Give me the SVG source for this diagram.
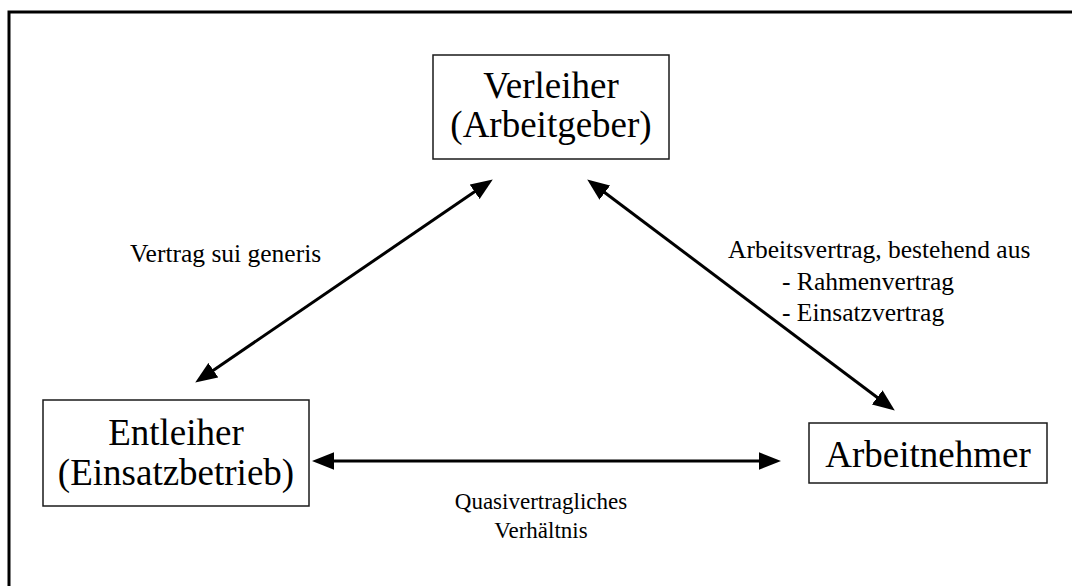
<svg xmlns="http://www.w3.org/2000/svg" width="1072" height="586" viewBox="0 0 1072 586">
  <style>
    .box { fill: #ffffff; stroke: #1a1a1a; stroke-width: 1.5; }
    .big { font-family: "Liberation Serif", "Times New Roman", serif; font-size: 37px; fill: #000; text-anchor: middle; }
    .lbl { font-family: "Liberation Serif", "Times New Roman", serif; font-size: 25.5px; fill: #000; }
    .lbl2 { font-family: "Liberation Serif", "Times New Roman", serif; font-size: 23px; fill: #000; text-anchor: middle; }
    .conn { stroke: #000; stroke-width: 3; fill: none; marker-start: url(#ah); marker-end: url(#ah); }
  </style>
  <defs>
    <marker id="ah" markerUnits="userSpaceOnUse" markerWidth="22" markerHeight="18" viewBox="0 0 20 16" refX="10" refY="8" orient="auto-start-reverse">
      <path d="M0,0 L20,8 L0,16 z" fill="#000"/>
    </marker>
  </defs>
  <rect x="0" y="0" width="1072" height="586" fill="#ffffff"/>
  <path d="M9,586 V12 H1072" fill="none" stroke="#000" stroke-width="3"/>

  <g id="connectors">
    <line class="conn" x1="204.3" y1="376.4" x2="483.7" y2="185.6"/>
    <line class="conn" x1="596" y1="186" x2="886" y2="404"/>
    <line class="conn" x1="323" y1="461" x2="770" y2="461"/>
  </g>

  <g id="verleiher">
    <rect class="box" x="433" y="55" width="236" height="104"/>
    <text class="big" x="551" y="98">Verleiher</text>
    <text class="big" x="551" y="137">(Arbeitgeber)</text>
  </g>
  <g id="entleiher">
    <rect class="box" x="43" y="400" width="266" height="106"/>
    <text class="big" x="176" y="445">Entleiher</text>
    <text class="big" x="176" y="485">(Einsatzbetrieb)</text>
  </g>
  <g id="arbeitnehmer">
    <rect class="box" x="809" y="423" width="238" height="60"/>
    <text class="big" x="928" y="467">Arbeitnehmer</text>
  </g>

  <g id="labels">
    <text class="lbl" x="130" y="262">Vertrag sui generis</text>
    <text class="lbl" x="728" y="258">Arbeitsvertrag, bestehend aus</text>
    <text class="lbl" x="782" y="290">- Rahmenvertrag</text>
    <text class="lbl" x="782" y="321">- Einsatzvertrag</text>
    <text class="lbl2" x="541" y="509">Quasivertragliches</text>
    <text class="lbl2" x="541" y="538">Verhältnis</text>
  </g>
</svg>
